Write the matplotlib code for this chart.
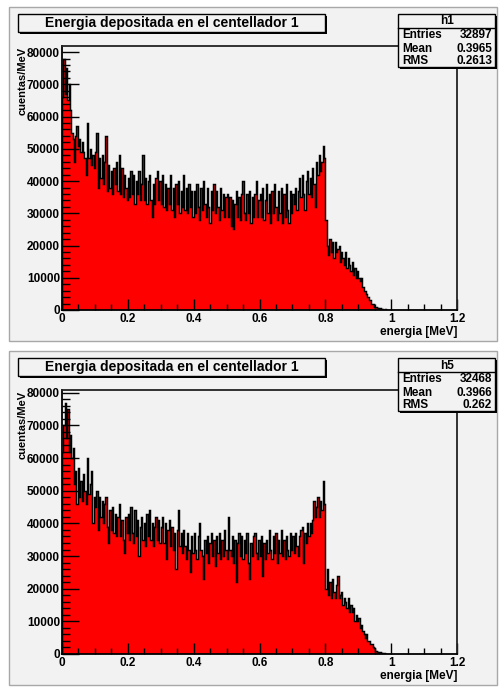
import numpy as np
import matplotlib
matplotlib.use('Agg')
import matplotlib.pyplot as plt
from matplotlib.patches import Rectangle
from matplotlib.ticker import MultipleLocator, FuncFormatter

plt.rcParams['font.family'] = ['Liberation Sans', 'DejaVu Sans']
plt.rcParams['font.weight'] = 'bold'

bin_width = 0.004  # MeV per bin, first bin starts at 0

# cuentas/MeV (in thousands), one entry per bin, 25 bins per row = 0.1 MeV
h1_vals = [
    66, 78, 67, 75, 65, 70, 62, 55, 53, 46, 54, 57, 51, 53, 49, 52, 49, 47, 42, 58, 47, 50, 45, 48, 44,
    49, 55, 38, 47, 41, 48, 39, 46, 54, 37, 45, 38, 43, 36, 44, 39, 46, 37, 48, 36, 44, 35, 42, 38, 34,
    41, 35, 43, 36, 42, 33, 40, 36, 43, 34, 39, 48, 34, 41, 33, 40, 42, 34, 29, 39, 33, 41, 43, 34, 40,
    33, 42, 32, 39, 31, 38, 33, 42, 31, 38, 29, 39, 33, 40, 30, 37, 32, 42, 31, 38, 30, 39, 32, 37, 29,
    37, 30, 39, 32, 28, 38, 31, 40, 33, 29, 38, 32, 27, 37, 31, 39, 30, 37, 32, 28, 38, 31, 36, 29, 35,
    36, 29, 35, 26, 34, 25, 33, 37, 29, 35, 28, 36, 40, 30, 28, 36, 30, 37, 27, 35, 29, 36, 40, 29, 34,
    36, 29, 38, 28, 34, 39, 30, 36, 27, 37, 30, 39, 32, 28, 37, 30, 38, 27, 36, 29, 39, 31, 27, 37, 30,
    36, 33, 38, 31, 37, 41, 35, 42, 36, 31, 40, 43, 36, 41, 35, 44, 39, 32, 46, 42, 48, 43, 46, 51, 47,
    28, 20, 17, 22, 18, 21, 16, 21, 18, 19, 20, 15, 18, 16, 14, 18, 13, 16, 14, 12, 15, 11, 13, 10, 12,
    10, 9, 10, 7, 6, 6, 5, 4, 3, 3, 2, 2, 1, 1, 0.7, 0.3, 0.7, 0, 0.3, 0, 0.3, 0, 0, 0, 0,
]
h5_vals = [
    62, 70, 77, 66, 75, 62, 67, 60, 63, 52, 56, 46, 57, 48, 53, 47, 55, 50, 46, 60, 49, 52, 56, 40, 48,
    45, 50, 38, 48, 42, 47, 40, 46, 48, 39, 34, 44, 38, 45, 37, 43, 36, 42, 46, 36, 41, 35, 31, 42, 37,
    43, 35, 45, 37, 34, 44, 36, 41, 30, 39, 42, 35, 40, 33, 43, 36, 44, 35, 40, 33, 39, 42, 35, 41, 34,
    39, 42, 34, 40, 29, 38, 41, 33, 39, 32, 37, 26, 38, 44, 33, 37, 31, 38, 33, 29, 37, 32, 25, 36, 31,
    37, 32, 29, 36, 40, 32, 30, 23, 35, 31, 36, 28, 34, 37, 30, 35, 27, 36, 31, 37, 29, 35, 30, 38, 32,
    29, 42, 32, 30, 36, 28, 35, 22, 34, 37, 30, 36, 29, 35, 31, 37, 28, 23, 34, 30, 36, 37, 31, 29, 35,
    30, 36, 24, 34, 29, 35, 31, 38, 32, 29, 36, 31, 37, 28, 35, 31, 38, 30, 35, 29, 36, 32, 30, 37, 32,
    36, 31, 37, 33, 30, 36, 38, 39, 28, 37, 34, 40, 36, 40, 37, 41, 47, 42, 45, 48, 42, 47, 44, 53, 46,
    20, 26, 18, 22, 17, 23, 19, 17, 21, 24, 17, 18, 19, 15, 17, 16, 14, 17, 13, 15, 13, 14, 10, 12, 10,
    11, 8, 9, 7, 6, 5, 6, 4, 4, 3, 3, 2, 1.7, 1, 0.7, 0.3, 0.7, 0.2, 0, 0.3, 0, 0, 0, 0, 0,
]

title = 'Energia depositada en el centellador 1'
hist_names = ['h1', 'h5']
entries = ['32897', '32468']
means = ['0.3965', '0.3966']
rmss = ['0.2613', '0.262']

pad_color = '#f2f2f2'
W, H = 499, 689
fig = plt.figure(figsize=(W / 100, H / 100), dpi=100)
fig.patch.set_facecolor('white')


def fx(px):
    return px / W


def fy(py):
    return 1 - py / H


def box(x0, y0, x1, y1, shadow=0, z=5, **kw):
    if shadow:
        fig.add_artist(Rectangle((fx(x0 + shadow), fy(y1 + shadow)), (x1 - x0) / W, (y1 - y0) / H,
                                 transform=fig.transFigure, facecolor='black', edgecolor='none', zorder=z))
    fig.add_artist(Rectangle((fx(x0), fy(y1)), (x1 - x0) / W, (y1 - y0) / H,
                             transform=fig.transFigure, zorder=z, **kw))


def draw_panel(dy, vals, name, n, mean, rms):
    # pad background
    box(9, 7 + dy, 497, 341 + dy, z=-2, facecolor=pad_color, edgecolor='#a8a8a8', lw=1)

    ax = fig.add_axes([fx(62), fy(310 + dy), (457 - 62) / W, 264 / H])
    ax.set_facecolor(pad_color)
    y = np.array(vals) * 1000
    edges = np.arange(len(y) + 1) * bin_width
    ax.stairs(y, edges, fill=True, color='#ff0000', lw=0)
    ax.stairs(y, edges, color='black', lw=1.05, baseline=0)
    ax.set_xlim(0, 1.2)
    ax.set_ylim(0, y.max() * 1.05)

    ax.xaxis.set_major_locator(MultipleLocator(0.2))
    ax.xaxis.set_minor_locator(MultipleLocator(0.05))
    ax.yaxis.set_major_locator(MultipleLocator(10000))
    ax.yaxis.set_minor_locator(MultipleLocator(2000))
    ax.xaxis.set_major_formatter(FuncFormatter(lambda v, p: '%g' % round(v, 2)))
    ax.yaxis.set_major_formatter(FuncFormatter(lambda v, p: '%d' % v))
    ax.tick_params(axis='both', which='both', direction='in', top=False, right=False,
                   width=1, labelsize=8.5, colors='black')
    ax.tick_params(axis='x', which='major', length=8, pad=2)
    ax.tick_params(axis='x', which='minor', length=4)
    ax.tick_params(axis='y', which='major', length=12, pad=1.5)
    ax.tick_params(axis='y', which='minor', length=6)
    for s in ax.spines.values():
        s.set_linewidth(1.3)
        s.set_color('#222222')
    ax.spines['left'].set_color('black')
    ax.spines['bottom'].set_color('black')

    fig.text(fx(23), fy(47 + dy), 'cuentas/MeV', rotation=90, ha='center', va='top', fontsize=8)
    fig.text(fx(457), fy(332 + dy), 'energia [MeV]', ha='right', va='center', fontsize=8.5)

    # title box
    box(18, 14 + dy, 325, 32 + dy, shadow=2, facecolor=pad_color, edgecolor='black', lw=1)
    fig.text(fx(172), fy(23.5 + dy), title, ha='center', va='center', fontsize=10, zorder=6)

    # statistics box
    box(398, 14 + dy, 495, 67 + dy, shadow=2, facecolor=pad_color, edgecolor='black', lw=1)
    fig.add_artist(plt.Line2D([fx(398), fx(495)], [fy(28 + dy), fy(28 + dy)],
                              transform=fig.transFigure, color='black', lw=1, zorder=6))
    fig.text(fx(447), fy(21.5 + dy), name, ha='center', va='center', fontsize=8.5, zorder=6)
    for row, (lab, val) in enumerate([('Entries', n), ('Mean', mean), ('RMS', rms)]):
        yy = fy(35.5 + 13 * row + dy)
        fig.text(fx(402), yy, lab, ha='left', va='center', fontsize=8.5, zorder=6)
        fig.text(fx(492), yy, val, ha='right', va='center', fontsize=8.5, zorder=6)
    return ax


draw_panel(0, h1_vals, hist_names[0], entries[0], means[0], rmss[0])
draw_panel(344, h5_vals, hist_names[1], entries[1], means[1], rmss[1])

fig.savefig('out.png', dpi=100)
